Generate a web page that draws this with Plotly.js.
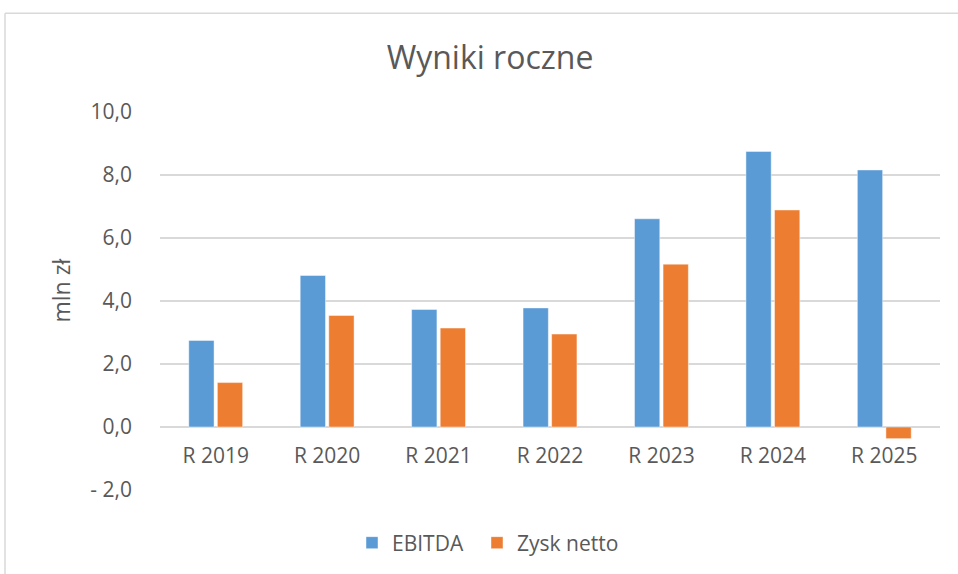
<!DOCTYPE html>
<html>
<head>
<meta charset="utf-8">
<script src="https://cdn.plot.ly/plotly-3.0.1.min.js"></script>
<style>
html,body{margin:0;padding:0;background:#fff;}
#chart{width:958px;height:574px;}
</style>
</head>
<body>
<div id="chart"></div>
<script>
const categories = ["R 2019", "R 2020", "R 2021", "R 2022", "R 2023", "R 2024", "R 2025"];
const ebitda = [2.75, 4.81, 3.73, 3.78, 6.61, 8.75, 8.16];
const zyskNetto = [1.41, 3.54, 3.14, 2.95, 5.17, 6.89, -0.37];
const yTickVals = [-2, 0, 2, 4, 6, 8, 10];
const yTickText = ["- 2,0", "0,0", "2,0", "4,0", "6,0", "8,0", "10,0"];

const FONT = "Open Sans, sans-serif";
const TXT = "#595959";
const GRID = "#d9d9d9";

const traces = [
  {type: "bar", name: "EBITDA", x: categories, y: ebitda, legend: "legend",
   marker: {color: "#5B9BD5", line: {color: "rgba(255,255,255,0.45)", width: 1}}},
  {type: "bar", name: "Zysk netto", x: categories, y: zyskNetto, legend: "legend2",
   marker: {color: "#ED7D31", line: {color: "rgba(255,255,255,0.45)", width: 1}}}
];

const L = 160, R = 18, T = 112, B = 83, W = 958, H = 574;
const pw = W - L - R, ph = H - T - B;
const px = v => (v - L) / pw;
const py = v => (H - B - v) / ph;

const legendBase = {orientation: "h", xanchor: "left", y: py(543), yanchor: "middle",
  font: {family: FONT, size: 21, color: TXT}, bgcolor: "rgba(0,0,0,0)"};

const layout = {
  width: W, height: H,
  margin: {l: L, r: R, t: T, b: B, pad: 0},
  paper_bgcolor: "#fff", plot_bgcolor: "#fff",
  font: {family: FONT, color: TXT, size: 21},
  title: {text: "Wyniki roczne", font: {family: FONT, size: 32, color: TXT},
          x: 490 / W, xanchor: "center", y: 1 - 58 / H, yanchor: "middle"},
  barmode: "group", bargap: 0.487, bargroupgap: 0.115,
  showlegend: true,
  legend: Object.assign({}, legendBase, {x: px(352)}),
  legend2: Object.assign({}, legendBase, {x: px(477)}),
  xaxis: {type: "category", range: [-0.5, 6.5], anchor: "free", position: 2 / 12,
          showline: false, showgrid: false, zeroline: false, ticks: "",
          ticklabelstandoff: 14, tickfont: {family: FONT, size: 21, color: TXT}, fixedrange: true},
  yaxis: {range: [-2, 10], tickvals: yTickVals, ticktext: yTickText,
          showgrid: true, gridcolor: GRID, gridwidth: 1.3,
          zeroline: true, zerolinecolor: GRID, zerolinewidth: 1.3,
          showline: false, ticks: "", ticklabelstandoff: 27,
          tickfont: {family: FONT, size: 21, color: TXT}, fixedrange: true},
  annotations: [
    {text: "mln zł", xref: "paper", yref: "paper", x: px(61), y: py(291),
     xanchor: "center", yanchor: "middle", textangle: -90, showarrow: false,
     font: {family: FONT, size: 23, color: TXT}}
  ],
  shapes: [
    {type: "line", xref: "paper", yref: "paper", x0: px(5), x1: px(980), y0: py(13), y1: py(13),
     line: {color: GRID, width: 1.5}},
    {type: "line", xref: "paper", yref: "paper", x0: px(5), x1: px(5), y0: py(13), y1: py(600),
     line: {color: GRID, width: 1.5}}
  ]
};

Plotly.newPlot("chart", traces, layout, {displayModeBar: false, staticPlot: true});
</script>
</body>
</html>
